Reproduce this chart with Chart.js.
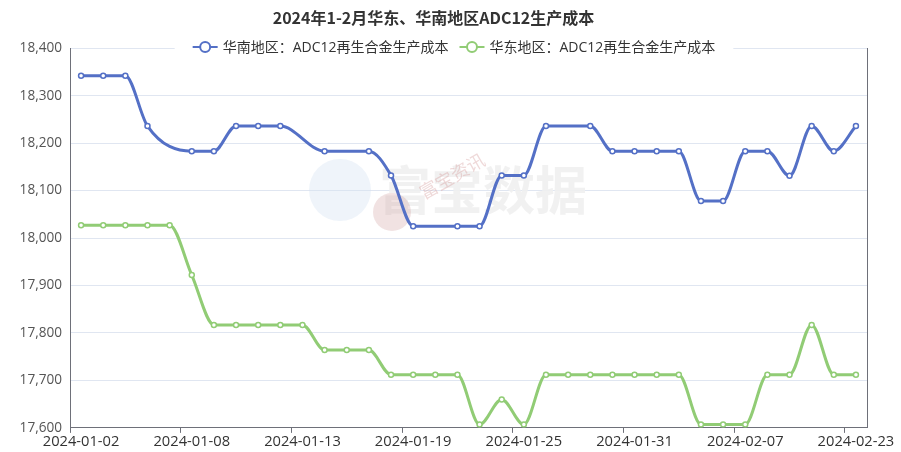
<!DOCTYPE html>
<html>
<head>
<meta charset="utf-8">
<script src="https://cdn.jsdelivr.net/npm/chart.js@4/dist/chart.umd.min.js"></script>
<style>
  html,body{margin:0;padding:0;background:#fff;}
  #wrap{width:901px;height:452px;}
</style>
</head>
<body>
<div id="wrap"><canvas id="chart" width="901" height="452"></canvas></div>
<script>
const dates=['2024-01-02','2024-01-03','2024-01-04','2024-01-05','2024-01-06',
    '2024-01-08','2024-01-09','2024-01-10','2024-01-11','2024-01-12',
    '2024-01-13','2024-01-15','2024-01-16','2024-01-17','2024-01-18',
    '2024-01-19','2024-01-20','2024-01-22','2024-01-23','2024-01-24',
    '2024-01-25','2024-01-26','2024-01-27','2024-01-29','2024-01-30',
    '2024-01-31','2024-02-01','2024-02-02','2024-02-05','2024-02-06',
    '2024-02-07','2024-02-08','2024-02-20','2024-02-21','2024-02-22',
    '2024-02-23'];
const southCost=[18342,18342,18342,18236,null,
    18183,18183,18236,18236,18236,
    null,18183,null,18183,18132,
    18025,null,18025,18025,18132,
    18132,18236,null,18236,18183,
    18183,18183,18183,18078,18078,
    18183,18183,18131,18236,18183,
    18236];
const eastCost=[18027,18027,18027,18027,18027,
    17922,17817,17817,17817,17817,
    17817,17764,17764,17764,17712,
    17712,17712,17712,17607,17660,
    17607,17712,17712,17712,17712,
    17712,17712,17712,17607,17607,
    17607,17712,17712,17817,17712,
    17712];
const yTicks=[17600,17700,17800,17900,18000,18100,18200,18300,18400];

const FONT="'Open Sans', 'Noto Sans CJK SC', sans-serif";
const CJK="'Noto Sans CJK SC', sans-serif";
const BLUE='#5470c6';
const GREEN='#91cc75';

// faint watermark behind the lines
const watermark={
    id:'watermark',
    beforeDatasetsDraw(chart){
        const c=chart.ctx;
        c.save();
        c.fillStyle='rgba(215,228,242,0.4)';
        c.beginPath();c.arc(340,190,31,0,Math.PI*2);c.fill();
        c.fillStyle='rgba(240,240,240,0.9)';
        c.font="bold 52px "+CJK;
        c.textAlign='center';c.textBaseline='middle';
        c.fillText('富宝数据',483,190);
        c.fillStyle='rgba(205,150,150,0.28)';
        c.beginPath();c.arc(392,212,19,0,Math.PI*2);c.fill();
        c.translate(452,176);c.rotate(-0.52);
        c.fillStyle='rgba(215,160,160,0.4)';
        c.font="18px "+CJK;
        c.fillText('富宝资讯',0,0);
        c.restore();
    }
};

// legend sits on the top grid line with a white box behind it
const topLegend={
    id:'topLegend',
    afterDraw(chart){
        const c=chart.ctx;
        const y=47;
        c.save();
        c.font="14px "+FONT;
        c.textBaseline='middle';
        const items=chart.data.datasets.map(d=>({label:d.label,color:d.borderColor}));
        const widths=items.map(it=>25+5+c.measureText(it.label).width);
        const gap=11;
        const total=widths.reduce((a,b)=>a+b,0)+gap*(items.length-1);
        let x=454-total/2;
        c.fillStyle='#fff';
        c.fillRect(x-18,y-9,total+36,18);
        items.forEach((it,i)=>{
            c.strokeStyle=it.color;
            c.lineWidth=2;
            c.beginPath();c.moveTo(x,y);c.lineTo(x+25,y);c.stroke();
            c.fillStyle='#fff';
            c.beginPath();c.arc(x+12.5,y,5,0,Math.PI*2);c.fill();c.stroke();
            c.fillStyle='#333';
            c.fillText(it.label,x+30,y+1);
            x+=widths[i]+gap;
        });
        c.restore();
    }
};

const chart=document.querySelector('#chart').getContext('2d');

new Chart(chart,{
    type:'line',
    data:{
        labels:dates,
        datasets:[
            {
                label:'华南地区：ADC12再生合金生产成本',
                data:southCost,
                borderColor:BLUE,
                backgroundColor:BLUE,
                borderWidth:3,
                pointRadius:2.5,
                pointBorderWidth:1.5,
                pointBackgroundColor:'#fff',
                pointBorderColor:BLUE,
                cubicInterpolationMode:'monotone',
                spanGaps:true
            },
            {
                label:'华东地区：ADC12再生合金生产成本',
                data:eastCost,
                borderColor:GREEN,
                backgroundColor:GREEN,
                borderWidth:3,
                pointRadius:2.5,
                pointBorderWidth:1.5,
                pointBackgroundColor:'#fff',
                pointBorderColor:GREEN,
                cubicInterpolationMode:'monotone',
                spanGaps:true
            }
        ]
    },
    options:{
        responsive:false,
        animation:false,
        layout:{padding:{top:0,left:0,right:34,bottom:1.5}},
        plugins:{
            legend:{display:false},
            tooltip:{enabled:false},
            title:{
                display:true,
                text:'2024年1-2月华东、华南地区ADC12生产成本',
                color:'#333',
                font:{family:CJK,size:16,weight:'bold'},
                padding:{top:8,bottom:21}
            }
        },
        scales:{
            x:{
                offset:true,
                grid:{
                    offset:true,
                    drawOnChartArea:false,
                    drawTicks:true,
                    tickLength:5,
                    tickColor:(ctx)=>ctx.index%5===0?'#6e7079':'rgba(0,0,0,0)'
                },
                border:{display:true,color:'#6e7079',width:1},
                ticks:{
                    autoSkip:false,
                    maxRotation:0,
                    color:'#333',
                    padding:0,
                    font:{family:FONT,size:14.7},
                    callback:function(v,i){return i%5===0?dates[i]:'';}
                }
            },
            y:{
                min:yTicks[0],
                max:yTicks[yTicks.length-1],
                afterFit:(s)=>{s.width=70;},
                afterBuildTicks:(s)=>{s.ticks=yTicks.map(v=>({value:v}));},
                grid:{color:'#e0e6f1',drawTicks:false},
                border:{display:true,color:'#6e7079',width:1},
                ticks:{
                    color:'#555',
                    padding:8,
                    font:{family:FONT,size:13.6},
                    callback:(v)=>v.toLocaleString('en-US')
                }
            },
            y1:{
                position:'right',
                min:yTicks[0],
                max:yTicks[yTicks.length-1],
                grid:{drawOnChartArea:false,drawTicks:false},
                border:{display:true,color:'#6e7079',width:1},
                ticks:{display:false}
            }
        }
    },
    plugins:[watermark,topLegend]
});
</script>
</body>
</html>
